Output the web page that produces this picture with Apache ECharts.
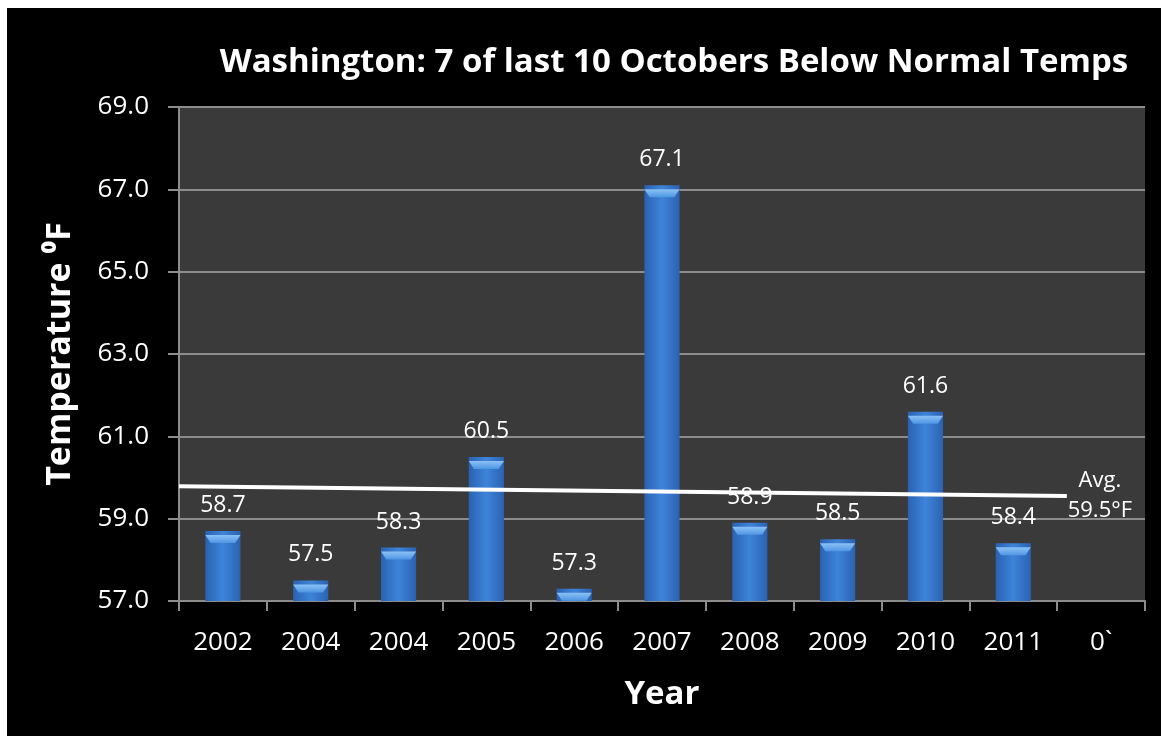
<!DOCTYPE html>
<html><head><meta charset="utf-8">
<script src="https://cdn.jsdelivr.net/npm/echarts@6/dist/echarts.min.js"></script>
<style>
html,body{margin:0;padding:0;background:#fff;}
#c{position:absolute;left:7px;top:8px;width:1154px;height:728px;background:#000;}
</style></head>
<body><div id="c"></div>
<script>
const categories = ['2002','2004','2004','2005','2006','2007','2008','2009','2010','2011','0`'];
const temps = [58.7, 57.5, 58.3, 60.5, 57.3, 67.1, 58.9, 58.5, 61.6, 58.4, null];
const yTicks = [57, 59, 61, 63, 65, 67, 69];
// average trend line endpoints: [category position, value]
const avgLine = [[0, 59.79], [10.11, 59.55]];
const avgLabel = ['Avg.', '59.5\u00B0F'];

const chart = echarts.init(document.getElementById('c'));
const font = '"Open Sans", Lato, sans-serif';
chart.setOption({
  backgroundColor: '#000',
  animation: false,
  title: {
    text: 'Washington: 7 of last 10 Octobers Below Normal Temps',
    left: 662, top: 33, textAlign: 'center',
    textStyle: {color: '#fff', fontFamily: font, fontWeight: 'bold', fontSize: 33}
  },
  grid: {left: 172, top: 99, width: 966, height: 494, backgroundColor: '#3b3a3a', show: true, borderWidth: 0},
  xAxis: [{
    type: 'category', data: categories, position: 'bottom',
    axisLine: {lineStyle: {color: '#8c8c8c', width: 2}},
    axisTick: {show: true, length: 10, lineStyle: {color: '#8c8c8c', width: 2}},
    axisLabel: {color: '#fff', fontFamily: font, fontSize: 26, margin: 29},
    name: 'Year', nameLocation: 'middle', nameGap: 77,
    nameTextStyle: {color: '#fff', fontFamily: font, fontWeight: 'bold', fontSize: 33}
  }, {
    type: 'value', min: 0, max: 11, show: false
  }],
  yAxis: {
    type: 'value', min: 57, max: 69, interval: 2,
    axisLine: {show: true, lineStyle: {color: '#8c8c8c', width: 2}},
    axisTick: {show: true, length: 11, lineStyle: {color: '#8c8c8c', width: 2}},
    splitLine: {lineStyle: {color: '#8c8c8c', width: 2}},
    axisLabel: {color: '#fff', fontFamily: font, fontSize: 26, margin: 30,
      formatter: v => yTicks.includes(v) ? v.toFixed(1) : ''},
    name: 'Temperature \u2070F', nameLocation: 'middle', nameGap: 102, nameRotate: 90,
    nameTextStyle: {color: '#fff', fontFamily: font, fontWeight: 'bold', fontSize: 34}
  },
  series: [{
    type: 'bar', data: temps, barWidth: '40%', xAxisIndex: 0, barGap: '-100%',
    itemStyle: {
      color: {type: 'linear', x: 0, y: 0, x2: 1, y2: 0, colorStops: [
        {offset: 0, color: '#2b62b2'}, {offset: 0.5, color: '#3d84da'}, {offset: 1, color: '#2b62b2'}]}
    },
    label: {show: true, position: 'top', distance: 14, color: '#fff', fontFamily: font, fontSize: 23,
      formatter: p => p.value == null ? '' : p.value.toFixed(1)}
  }, {
    type: 'pictorialBar', data: temps, xAxisIndex: 0, barWidth: '40%', barGap: '-100%',
    symbol: 'path://M0,0 L20,0 L17,4 L3,4 Z', symbolSize: ['100%', 8],
    symbolPosition: 'end', symbolOffset: [0, '50%'], z: 3,
    itemStyle: {color: {type: 'linear', x: 0, y: 0, x2: 0, y2: 1, colorStops: [
      {offset: 0, color: '#8cc2f5'}, {offset: 1, color: '#4f95e4'}]}},
    silent: true
  }, {
    type: 'line', xAxisIndex: 1, data: avgLine, symbol: 'none', z: 4,
    lineStyle: {color: '#fff', width: 4},
    endLabel: {show: true, color: '#fff', fontFamily: font, fontSize: 22, align: 'center',
      offset: [25, 0], lineHeight: 30,
      formatter: () => avgLabel.join('\n')}
  }]
});
</script></body></html>
